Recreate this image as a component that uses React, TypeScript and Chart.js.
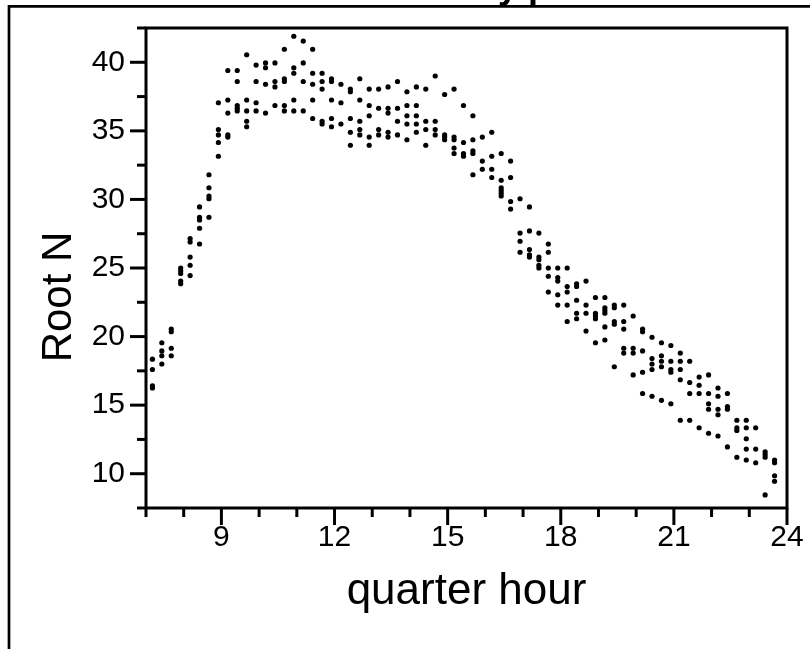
import React, { useEffect, useRef } from 'react';
import { Chart, registerables } from 'chart.js';

Chart.register(...registerables);

const FONT = '"Liberation Sans", Arial, Helvetica, sans-serif';

const chartTitle = 'Daily pattern';
const xTitle = 'quarter hour';
const yTitle = 'Root N';
const xTickLabels = [9, 12, 15, 18, 21, 24];
const yTickLabels = [10, 15, 20, 25, 30, 35, 40];

// x position of each quarter-hour column
const quarterHours = [
  6.92, 7.17, 7.42, 7.67, 7.92, 8.17, 8.42, 8.67, 8.92, 9.17, 9.42, 9.67,
  9.92, 10.17, 10.42, 10.67, 10.92, 11.17, 11.42, 11.67, 11.92, 12.17, 12.42, 12.67,
  12.92, 13.17, 13.42, 13.67, 13.92, 14.17, 14.42, 14.67, 14.92, 15.17, 15.42, 15.67,
  15.92, 16.17, 16.42, 16.67, 16.92, 17.17, 17.42, 17.67, 17.92, 18.17, 18.42, 18.67,
  18.92, 19.17, 19.42, 19.67, 19.92, 20.17, 20.42, 20.67, 20.92, 21.17, 21.42, 21.67,
  21.92, 22.17, 22.42, 22.67, 22.92, 23.17, 23.42, 23.67,
];

// Root N values per quarter, grouped by hour
const h07 = [[18.6, 18.35, 18.15, 18.0, 17.2], [18.35, 17.6, 16.4, 16.25], [19.55, 18.95, 18.6, 18.0], [20.55, 20.35, 19.15, 18.6]];
const h08 = [[25.0, 24.8, 24.6, 24.05, 23.85], [27.15, 26.9, 25.8, 25.2, 24.45], [29.45, 28.7, 28.5, 27.9, 26.75], [31.8, 30.85, 30.25, 30.05, 28.7]];
const h09 = [[37.05, 35.1, 34.7, 34.15, 33.15], [39.4, 37.25, 36.3, 34.7, 34.55], [39.4, 38.6, 36.85, 36.65, 36.45], [40.55, 37.25, 36.45, 35.7, 35.3]];
const h10 = [[39.8, 38.6, 37.05, 36.45], [39.95, 39.6, 38.4, 36.3], [39.95, 38.6, 38.2, 36.85], [40.95, 38.8, 38.6, 36.85, 36.45]];
const h11 = [[41.9, 39.6, 39.2, 37.25, 36.45], [41.55, 39.95, 38.6, 36.45], [40.95, 39.2, 38.4, 37.25, 35.9], [39.2, 38.6, 38.05, 35.7, 35.5]];
const h12 = [[38.8, 38.6, 37.25, 35.9, 35.3], [38.4, 37.05, 35.5], [38.05, 37.85, 35.9, 34.9, 33.95], [38.8, 37.25, 35.7, 35.1, 34.7]];
const h13 = [[38.05, 36.85, 36.1, 34.55, 33.95], [38.05, 36.65, 35.1, 34.7], [38.2, 36.65, 36.3, 34.9, 34.55], [38.6, 36.65, 35.7, 34.7]];
const h14 = [[37.85, 36.85, 36.1, 35.5, 34.35], [38.2, 36.85, 36.1, 35.5, 34.9], [38.05, 35.7, 35.1, 33.95], [39.0, 35.7, 35.1, 34.7]];
const h15 = [[37.65, 34.7, 34.55, 34.35], [38.05, 34.55, 34.35, 33.75, 33.35], [36.85, 34.15, 33.35, 33.15], [36.1, 34.35, 33.55, 33.35, 31.8]];
const h16 = [[34.55, 32.8, 32.2], [34.9, 33.15, 32.2, 31.6], [33.35, 31.4, 30.85, 30.65, 30.45, 30.25], [32.8, 31.6, 29.85, 29.3]];
const h17 = [[30.05, 27.55, 26.95, 26.15], [29.45, 27.7, 26.35, 25.95, 25.8], [27.55, 25.8, 25.6, 25.2, 25.0], [26.75, 26.15, 25.0, 24.4, 23.25]];
const h18 = [[25.0, 24.3, 24.05, 23.05, 22.3], [25.0, 23.65, 23.25, 22.3, 21.1], [23.85, 23.65, 22.65, 21.7, 21.3], [24.05, 22.3, 21.7, 20.4]];
const h19 = [[22.85, 21.7, 21.5, 21.3, 19.55], [22.85, 22.1, 21.9, 21.7, 20.7, 19.75], [22.3, 22.1, 21.1, 20.9, 17.8], [22.3, 21.1, 20.55, 19.15, 18.8]];
const h20 = [[21.5, 19.15, 18.8, 17.2], [20.55, 20.35, 18.95, 17.4, 15.85], [19.95, 18.4, 18.0, 17.6, 15.65], [19.55, 18.6, 18.2, 17.8, 15.35]];
const h21 = [[19.35, 18.2, 17.6, 17.4, 15.1], [18.8, 18.2, 17.6, 16.85, 13.9], [18.2, 16.65, 15.85, 13.9], [17.05, 16.45, 15.85, 13.35]];
const h22 = [[17.2, 15.85, 15.1, 14.7, 12.95], [16.25, 15.65, 14.7, 14.3, 12.75], [15.85, 14.9, 14.7, 11.95], [13.9, 13.35, 13.15, 11.2]];
const h23 = [[13.9, 13.35, 12.55, 11.8, 11.0], [13.35, 11.8, 10.8], [11.6, 11.4, 11.2, 8.45], [11.0, 10.8, 9.85, 9.45]];

const hourBlocks = [h07, h08, h09, h10, h11, h12, h13, h14, h15, h16, h17, h18, h19, h20, h21, h22, h23];

function buildPoints() {
  const pts: { x: number; y: number }[] = [];
  hourBlocks.forEach((block, b) => {
    block.forEach((vals, q) => {
      vals.forEach((v) => pts.push({ x: quarterHours[b * 4 + q], y: v }));
    });
  });
  return pts;
}

const zeroPadding = (s: any) => {
  s.paddingTop = 0;
  s.paddingBottom = 0;
  s.paddingLeft = 0;
  s.paddingRight = 0;
};

const decorPlugin = {
  id: 'decor',
  beforeDraw(chart: any) {
    const { ctx } = chart;
    ctx.save();
    ctx.fillStyle = '#fff';
    ctx.fillRect(0, 0, chart.width, chart.height);
    // outer frame (partly cropped)
    ctx.strokeStyle = '#000';
    ctx.lineWidth = 2.7;
    ctx.beginPath();
    ctx.moveTo(9, chart.height + 5);
    ctx.lineTo(9, 6.3);
    ctx.lineTo(chart.width + 5, 6.3);
    ctx.stroke();
    // title, cropped at the top of the picture
    ctx.fillStyle = '#000';
    ctx.font = `bold 36px ${FONT}`;
    ctx.textAlign = 'center';
    ctx.textBaseline = 'alphabetic';
    ctx.fillText(chartTitle, 541, -2);
    ctx.restore();
  },
  beforeDatasetsDraw(chart: any) {
    const { ctx, chartArea: a } = chart;
    const xs = chart.scales.x;
    const ys = chart.scales.y;
    ctx.save();
    ctx.strokeStyle = '#000';
    ctx.lineWidth = 3;
    ctx.lineCap = 'butt';
    ctx.lineJoin = 'miter';
    ctx.strokeRect(a.left, a.top, a.right - a.left, a.bottom - a.top);
    xs.ticks.forEach((t: any) => {
      const px = xs.getPixelForValue(t.value);
      const len = xTickLabels.includes(t.value) ? 17 : 9;
      ctx.beginPath();
      ctx.moveTo(px, a.bottom);
      ctx.lineTo(px, a.bottom + len);
      ctx.stroke();
    });
    ys.ticks.forEach((t: any) => {
      const py = ys.getPixelForValue(t.value);
      const len = yTickLabels.includes(t.value) ? 16 : 9;
      ctx.beginPath();
      ctx.moveTo(a.left, py);
      ctx.lineTo(a.left - len, py);
      ctx.stroke();
    });
    // y axis title
    ctx.fillStyle = '#000';
    ctx.font = `42px ${FONT}`;
    ctx.textAlign = 'center';
    ctx.textBaseline = 'middle';
    ctx.translate(59, (a.top + a.bottom) / 2 + 29);
    ctx.rotate(-Math.PI / 2);
    ctx.fillText(yTitle, 0, 0);
    ctx.restore();
  },
};

export default function App() {
  const ref = useRef<HTMLCanvasElement>(null);
  useEffect(() => {
    if (!ref.current) return;
    const chart = new Chart(ref.current, {
      type: 'scatter',
      data: {
        datasets: [
          {
            label: yTitle,
            data: buildPoints(),
            backgroundColor: '#000',
            borderColor: '#000',
            borderWidth: 0,
            pointRadius: 2.6,
            pointStyle: 'circle',
          },
        ],
      },
      options: {
        animation: false,
        responsive: false,
        devicePixelRatio: 1,
        layout: { padding: { left: 0, right: 23, top: 28, bottom: 0 } },
        plugins: { legend: { display: false }, tooltip: { enabled: false }, title: { display: false } },
        scales: {
          x: {
            type: 'linear',
            position: 'bottom',
            min: 7,
            max: 24,
            afterFit: (s: any) => { s.height = 141; zeroPadding(s); },
            grid: { display: false, drawTicks: false },
            border: { display: false },
            ticks: {
              stepSize: 1,
              autoSkip: false,
              maxRotation: 0,
              padding: 12,
              color: '#000',
              font: { family: FONT, size: 30 },
              callback: (v: any) => (xTickLabels.includes(Number(v)) ? String(v) : ''),
            },
            title: {
              display: true,
              text: xTitle,
              color: '#000',
              font: { family: FONT, size: 44 },
              padding: { top: 0, bottom: 31 },
            },
          },
          y: {
            type: 'linear',
            position: 'left',
            min: 7.5,
            max: 42.5,
            afterFit: (s: any) => { s.width = 146; zeroPadding(s); },
            grid: { display: false, drawTicks: false },
            border: { display: false },
            ticks: {
              stepSize: 2.5,
              autoSkip: false,
              padding: 21,
              color: '#000',
              font: { family: FONT, size: 30 },
              callback: (v: any) => (yTickLabels.includes(Number(v)) ? String(v) : ''),
            },
            title: { display: false },
          },
        },
      },
      plugins: [decorPlugin],
    });
    return () => chart.destroy();
  }, []);
  return (
    <div style={{ position: 'absolute', left: 0, top: 0, width: 810, height: 649 }}>
      <canvas ref={ref} width={810} height={649} style={{ display: 'block' }} />
    </div>
  );
}
